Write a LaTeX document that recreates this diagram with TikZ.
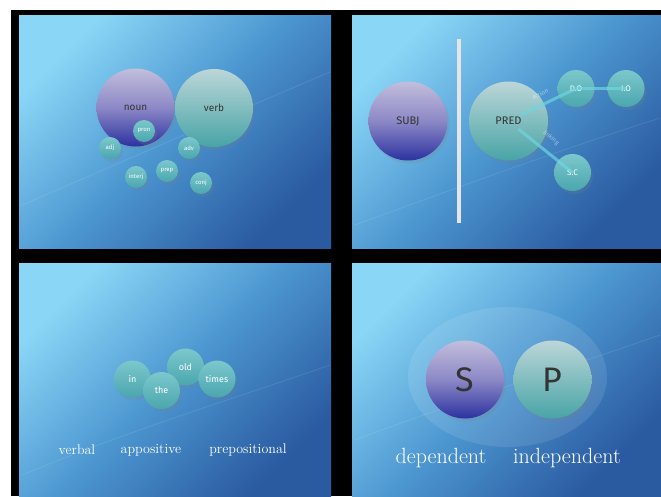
\documentclass[tikz,border=0pt]{standalone}
\usepackage{fontspec}
\newfontfamily\lab{Fira Sans}
\usetikzlibrary{shadows}
\definecolor{bgA}{HTML}{8AD6F6}
\definecolor{bgM}{HTML}{4C96D0}
\definecolor{bgB}{HTML}{2A5AA0}
\definecolor{nounT}{HTML}{C2BEDC}
\definecolor{nounM}{HTML}{8C88C6}
\definecolor{nounB}{HTML}{2C32A0}
\definecolor{verbT}{HTML}{BCD6D8}
\definecolor{verbB}{HTML}{48A4A6}
\definecolor{tealT}{HTML}{7CC8CC}
\definecolor{tealB}{HTML}{4AA6AE}
\definecolor{linkc}{HTML}{6ED6E0}
\begin{document}
\begin{tikzpicture}[x=1pt,y=-1pt,
  panel/.style={top color=bgA, bottom color=bgB, middle color=bgM, shading angle=45},
  streak/.style={white, opacity=0.1, line width=0.8pt},
  shad/.style={drop shadow={opacity=0.2, shadow xshift=2pt, shadow yshift=-3pt}},
  nounball/.style={circle, inner sep=0pt, minimum size=78pt, top color=nounT, bottom color=nounB, middle color=nounM, shad, font=\lab\fontsize{10}{12}\selectfont, text=black!80},
  verbball/.style={circle, inner sep=0pt, minimum size=78pt, top color=verbT, bottom color=verbB, shad, font=\lab\fontsize{10}{12}\selectfont, text=black!80},
  smallball/.style={circle, inner sep=0pt, minimum size=22pt, top color=tealT, bottom color=tealB, shad, font=\lab\fontsize{6}{7}\selectfont, text=white},
  midball/.style={circle, inner sep=0pt, minimum size=37pt, top color=tealT, bottom color=tealB, shad, font=\lab\fontsize{8}{9}\selectfont, text=white},
  linkline/.style={linkc, opacity=0.7, line width=3pt},
  ltxt/.style={text=white, opacity=0.5, font=\lab\fontsize{6}{7}\selectfont, inner sep=0.5pt},
  captxt/.style={text=white, font=\fontsize{14}{16}\selectfont},
  capbigtxt/.style={text=white, font=\fontsize{22}{26}\selectfont}
]
\useasboundingbox (0,0) rectangle (661,496);
\fill[white] (0,0) rectangle (661,496);
\fill[black] (11,10) rectangle (661,496);
% panels
\shade[panel] (19,15) rectangle (331,248);
\shade[panel] (352,15) rectangle (661,248);
\shade[panel] (19,263) rectangle (331,496);
\shade[panel] (352,263) rectangle (661,496);
% streaks
\draw[streak] (22,205) .. controls (150,150) and (240,110) .. (330,72);
\draw[streak] (355,225) .. controls (450,190) and (560,150) .. (660,118);
\draw[streak] (22,475) .. controls (130,430) and (230,400) .. (330,365);
\draw[streak] (355,440) .. controls (460,400) and (560,370) .. (660,335);
% panel 1
\node[nounball] (noun) at (135.5,107.5) {noun};
\node[verbball] (verb) at (214,108) {verb};
\node[smallball] (pron) at (144,131) {pron};
\node[smallball] (adj) at (110,148) {adj};
\node[smallball] (adv) at (189,148) {adv};
\node[smallball] (interj) at (136,177) {interj};
\node[smallball] (prep) at (167,171) {prep};
\node[smallball] (conj) at (201,183) {conj};
% panel 2
\fill[gray!20] (457,39) rectangle (461,223);
\node[nounball, minimum size=79pt, font=\lab\fontsize{11}{13}\selectfont] (subj) at (408,121) {SUBJ};
\node[verbball, minimum size=79pt, font=\lab\fontsize{11}{13}\selectfont] (pred) at (508.5,121) {PRED};
\node[midball] (do) at (576,88.5) {D.O};
\node[midball] (io) at (626,88.5) {I.O};
\node[midball] (sc) at (572.5,172.5) {S.C};
\draw[linkline, shorten <=13pt] (pred.center) -- (do.center);
\draw[linkline] (do.center) -- (io.center);
\draw[linkline, shorten <=13pt] (pred.center) -- (sc.center);
\node[ltxt, rotate=25] (act) at (540,94) {action};
\node[ltxt, rotate=-40] (lnk) at (551,138) {linking};
% panel 3
\node[midball, font=\lab\fontsize{9}{10}\selectfont] (in) at (132.5,379) {in};
\node[midball, font=\lab\fontsize{9}{10}\selectfont] (old) at (185.5,367) {old};
\node[midball, font=\lab\fontsize{9}{10}\selectfont] (times) at (217,379) {times};
\node[midball, font=\lab\fontsize{9}{10}\selectfont] (the) at (161.5,390.5) {the};
\node[captxt] (verbal) at (77,450) {verbal};
\node[captxt] (appos) at (151,450) {appositive};
\node[captxt] (prepo) at (248,450) {prepositional};
% panel 4
\fill[white, opacity=0.1] (507.5,377) ellipse [x radius=99.5, y radius=70];
\node[nounball, font=\lab\fontsize{34}{36}\selectfont] (s) at (465,379.5) {S};
\node[verbball, font=\lab\fontsize{34}{36}\selectfont] (p) at (552.5,379.5) {P};
\node[capbigtxt] (dep) at (441,458) {dependent};
\node[capbigtxt] (indep) at (567,458) {independent};
\end{tikzpicture}
\end{document}
